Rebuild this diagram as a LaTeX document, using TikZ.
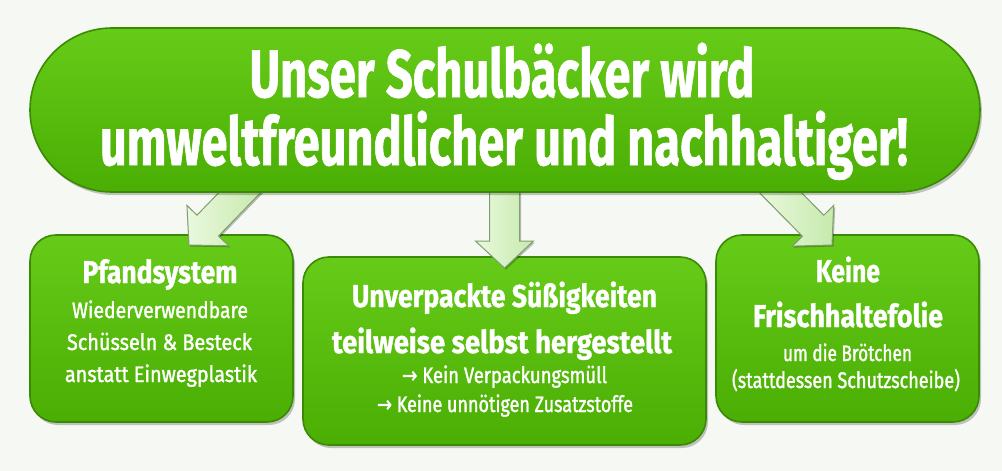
\documentclass[tikz,border=0pt]{standalone}
\usepackage{fontspec}
\usepackage{graphicx}
\setmainfont{Fira Sans}[BoldFeatures={FakeBold=1.2}]
\newfontfamily\subfont{Fira Sans}[FakeBold=1.6]
\newfontfamily\symfont{DejaVu Sans}[FakeBold=1]
\usetikzlibrary{calc,shadows,shapes.misc}
\definecolor{bg}{HTML}{F6F8F3}
\definecolor{gtop}{HTML}{66CB18}
\definecolor{gbot}{HTML}{4AAE04}
\definecolor{gline}{HTML}{3A8A05}
\definecolor{aleft}{HTML}{EAF9DE}
\definecolor{aright}{HTML}{C6E9AC}
\definecolor{aline}{HTML}{7FA070}
\newcommand\fitline[2]{\resizebox{#1pt}{\height}{#2}}
\newcommand\blockarrow[3]{%
  \coordinate (#3h) at ($(#2)!27pt!(#1)$);
  \filldraw[arrowbody]
    ($(#1)!15pt!90:(#2)$) -- ($(#3h)!15pt!90:(#2)$) -- ($(#3h)!29pt!90:(#2)$) --
    (#2) -- ($(#3h)!29pt!-90:(#2)$) -- ($(#3h)!15pt!-90:(#2)$) --
    ($(#1)!15pt!-90:(#2)$) -- cycle;}
\tikzset{
  panel/.style={rectangle, rounded corners=26pt, top color=gtop, bottom color=gbot,
    draw=gline, line width=1.6pt, inner sep=0pt,
    drop shadow={shadow xshift=2pt, shadow yshift=-3pt, fill=black, opacity=0.22}},
  pill/.style={rounded rectangle, top color=gtop, bottom color=gbot,
    draw=gline, line width=1.6pt, inner sep=0pt,
    drop shadow={shadow xshift=2pt, shadow yshift=-3pt, fill=black, opacity=0.22}},
  arrowbody/.style={left color=aleft, right color=aright, draw=aline, line width=1pt,
    line join=miter,
    drop shadow={shadow xshift=1.5pt, shadow yshift=-1.5pt, fill=black, opacity=0.25}},
  ttl/.style={anchor=base, inner sep=0pt, text=white, font=\fontsize{67}{70}\selectfont\bfseries},
  hd/.style={anchor=base, inner sep=0pt, text=white, font=\fontsize{31.5}{34}\selectfont\bfseries},
  sb/.style={anchor=base, inner sep=0pt, text=white, font=\fontsize{22.5}{25}\selectfont\subfont},
}
\begin{document}
\begin{tikzpicture}[x=1pt,y=-1pt]
\fill[bg] (0,0) rectangle (1002,471);
\useasboundingbox (0,0) rectangle (1002,471);

% boxes
\node[panel, minimum width=263pt, minimum height=187pt] (pfand) at (161.5,328.5) {};
\node[panel, minimum width=403pt, minimum height=188pt] (unverp) at (504.5,351) {};
\node[panel, minimum width=263pt, minimum height=187pt] (folie) at (847.5,328.5) {};

% arrows
\coordinate (a1s) at (252,180);
\coordinate (a1e) at (189,245);
\coordinate (a2s) at (504.5,180);
\coordinate (a2e) at (504.5,268);
\coordinate (a3s) at (768,180);
\coordinate (a3e) at (832,245);
\blockarrow{a1s}{a1e}{a1}
\blockarrow{a2s}{a2e}{a2}
\blockarrow{a3s}{a3e}{a3}

% title pill
\node[pill, minimum width=950pt, minimum height=164pt] (head) at (505,110) {};
\node[ttl] (t1) at (502,97) {\fitline{505}{Unser Schulbäcker wird}};
\node[ttl] (t2) at (504,165) {\fitline{808}{umweltfreundlicher und nachhaltiger!}};

% left box text
\node[hd] (p1) at (160,283) {\fitline{155}{Pfandsystem}};
\node[sb] (p2) at (160,318) {\fitline{176}{Wiederverwendbare}};
\node[sb] (p3) at (159.5,350) {\fitline{185}{Schüsseln \& Besteck}};
\node[sb] (p4) at (161,382) {\fitline{192}{anstatt Einwegplastik}};

% middle box text
\node[hd] (m1) at (504.5,307) {\fitline{305}{Unverpackte Süßigkeiten}};
\node[hd] (m2) at (502,353) {\fitline{340}{teilweise selbst hergestellt}};
\node[sb] (m3) at (504.5,383) {\fitline{205}{{\symfont →} Kein Verpackungsmüll}};
\node[sb] (m4) at (505,412) {\fitline{256}{{\symfont →} Keine unnötigen Zusatzstoffe}};

% right box text
\node[hd] (f1) at (848,282) {\fitline{64}{Keine}};
\node[hd] (f2) at (848,327) {\fitline{190}{Frischhaltefolie}};
\node[sb] (f3) at (847.5,361) {\fitline{129}{um die Brötchen}};
\node[sb] (f4) at (846,388) {\fitline{228}{(stattdessen Schutzscheibe)}};
\end{tikzpicture}
\end{document}
